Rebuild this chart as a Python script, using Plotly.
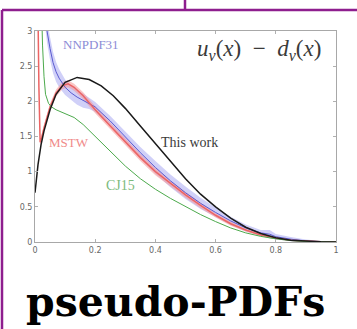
import plotly.graph_objects as go

# NNPDF31 central value and uncertainty half-width
nnpdf_x = [0.03, 0.04, 0.05, 0.06, 0.07, 0.08, 0.1, 0.12, 0.14, 0.16, 0.18, 0.2, 0.25, 0.3,
           0.35, 0.4, 0.45, 0.5, 0.55, 0.6, 0.65, 0.7, 0.75, 0.78, 0.8, 0.85, 0.9, 0.95, 1.0]
nnpdf_y = [3.4, 3.0, 2.75, 2.55, 2.42, 2.33, 2.2, 2.12, 2.06, 2.01, 1.97, 1.92, 1.72, 1.49,
           1.27, 1.06, 0.87, 0.7, 0.55, 0.42, 0.3, 0.2, 0.13, 0.11, 0.075, 0.04, 0.015, 0.004, 0.0]
nnpdf_err = [0.18, 0.17, 0.16, 0.15, 0.14, 0.13, 0.11, 0.1, 0.11, 0.1, 0.08, 0.07, 0.07, 0.08,
             0.08, 0.09, 0.09, 0.09, 0.08, 0.07, 0.06, 0.05, 0.04, 0.06, 0.04, 0.03, 0.02, 0.01, 0.005]

# MSTW central value and uncertainty half-width
mstw_x = [0.005, 0.009, 0.013, 0.017, 0.022, 0.03, 0.04, 0.05, 0.07, 0.09, 0.11, 0.13, 0.16,
          0.2, 0.25, 0.3, 0.35, 0.4, 0.45, 0.5, 0.55, 0.6, 0.65, 0.7, 0.75, 0.8, 0.85, 0.9, 0.95, 1.0]
mstw_y = [5.0, 3.3, 2.2, 1.42, 1.48, 1.62, 1.78, 1.92, 2.12, 2.22, 2.25, 2.2, 2.08,
          1.88, 1.65, 1.43, 1.2, 1.0, 0.83, 0.67, 0.52, 0.38, 0.26, 0.17, 0.1, 0.055, 0.025, 0.01, 0.003, 0.0]
mstw_err = [0.08, 0.07, 0.06, 0.05, 0.05, 0.05, 0.05, 0.05, 0.05, 0.05, 0.05, 0.05, 0.05,
            0.05, 0.05, 0.05, 0.05, 0.05, 0.04, 0.04, 0.04, 0.03, 0.03, 0.02, 0.02, 0.015, 0.01, 0.005, 0.003, 0.0]

# CJ15
cj_x = [0.015, 0.02, 0.025, 0.03, 0.035, 0.045, 0.055, 0.07, 0.1, 0.13, 0.16, 0.2, 0.25, 0.3,
        0.35, 0.4, 0.45, 0.5, 0.55, 0.6, 0.65, 0.7, 0.75, 0.8, 0.85, 0.9, 0.95, 1.0]
cj_y = [4.5, 3.4, 2.8, 2.35, 2.1, 1.97, 1.92, 1.88, 1.83, 1.77, 1.67, 1.5, 1.3, 1.08,
        0.9, 0.75, 0.62, 0.5, 0.39, 0.29, 0.2, 0.13, 0.08, 0.045, 0.02, 0.008, 0.002, 0.0]

# This work
tw_x = [0.0, 0.01, 0.02, 0.03, 0.05, 0.07, 0.1, 0.14, 0.18, 0.22, 0.26, 0.3, 0.35, 0.4,
        0.45, 0.5, 0.55, 0.6, 0.65, 0.7, 0.75, 0.8, 0.85, 0.9, 0.95, 1.0]
tw_y = [0.7, 1.1, 1.38, 1.58, 1.88, 2.1, 2.27, 2.34, 2.31, 2.22, 2.08, 1.9, 1.65, 1.4,
        1.14, 0.9, 0.68, 0.5, 0.34, 0.21, 0.12, 0.06, 0.025, 0.01, 0.003, 0.0]

x_ticks = [0, 0.2, 0.4, 0.6, 0.8, 1]
x_tick_text = ["0", "0.2", "0.4", "0.6", "0.8", "1"]
y_ticks = [0, 0.5, 1, 1.5, 2, 2.5, 3]
y_tick_text = ["0", "0.5", "1", "1.5", "2", "2.5", "3"]

W, H = 357, 329
ML, MR, MT, MB = 35, 21, 31, 87
PW, PH = W - ML - MR, H - MT - MB


def px(x):
    return (x - ML) / PW


def py(y):
    return (H - MB - y) / PH


def band(xs, ys, es, fill):
    upper = [y + e for y, e in zip(ys, es)]
    lower = [y - e for y, e in zip(ys, es)]
    return go.Scatter(x=xs + xs[::-1], y=upper + lower[::-1], fill="toself",
                      fillcolor=fill, line=dict(width=0), hoverinfo="skip",
                      showlegend=False)


fig = go.Figure()
fig.add_trace(band(nnpdf_x, nnpdf_y, nnpdf_err, "rgba(150,150,240,0.45)"))
fig.add_trace(band(mstw_x, mstw_y, mstw_err, "rgba(245,150,150,0.55)"))
fig.add_trace(go.Scatter(x=nnpdf_x, y=nnpdf_y, mode="lines",
                         line=dict(color="#5a5ad0", width=1), showlegend=False))
fig.add_trace(go.Scatter(x=mstw_x, y=mstw_y, mode="lines",
                         line=dict(color="#ec6464", width=1.5), showlegend=False))
fig.add_trace(go.Scatter(x=cj_x, y=cj_y, mode="lines",
                         line=dict(color="#4caa4c", width=1), showlegend=False))
fig.add_trace(go.Scatter(x=tw_x, y=tw_y, mode="lines",
                         line=dict(color="#1a1a1a", width=1.5), showlegend=False))

serif = "Liberation Serif"
annotations = [
    dict(x=0.187, y=2.815, text="NNPDF31", font=dict(family=serif, size=13, color="#8c8cd6")),
    dict(x=0.113, y=1.41, text="MSTW", font=dict(family=serif, size=13, color="#f08a8a")),
    dict(x=0.513, y=1.42, text="This work", font=dict(family=serif, size=14, color="#3a3a3a")),
    dict(x=0.283, y=0.81, text="CJ15", font=dict(family=serif, size=14, color="#7cba7c")),
    dict(x=0.743, y=2.73,
         text="<i>u</i><sub><i>v</i></sub>(<i>x</i>)&nbsp;&nbsp;−&nbsp;&nbsp;"
              "<i>d</i><sub><i>v</i></sub>(<i>x</i>)",
         font=dict(family=serif, size=23, color="#3a3a3a")),
    dict(x=1.04, y=0.06, text="<i>x</i>", font=dict(family=serif, size=17, color="#3a3a3a")),
]
for a in annotations:
    a.update(xref="x", yref="y", showarrow=False, xanchor="center", yanchor="middle")
annotations.append(dict(x=px(175), y=py(302), xref="paper", yref="paper", showarrow=False,
                        xanchor="center", yanchor="middle",
                        text="<b>pseudo-PDFs</b>",
                        font=dict(family="DejaVu Serif", size=41, color="#000000")))

purple = "#8e1e8e"
shapes = [
    dict(type="line", xref="paper", yref="paper", x0=px(2), x1=px(2), y0=py(10), y1=py(H + 2),
         line=dict(color=purple, width=2.5)),
    dict(type="line", xref="paper", yref="paper", x0=px(2), x1=px(W + 2), y0=py(10), y1=py(10),
         line=dict(color=purple, width=2.5)),
    dict(type="line", xref="paper", yref="paper", x0=px(185), x1=px(185), y0=py(-2), y1=py(10),
         line=dict(color=purple, width=2.5)),
]

axis_common = dict(showgrid=False, zeroline=False, showline=True, linecolor="#a8a8a8",
                   linewidth=1, mirror="ticks", ticks="inside", ticklen=3, tickcolor="#b0b0b0",
                   tickfont=dict(family="DejaVu Sans", size=8, color="#666666"))

fig.update_layout(
    width=W, height=H, margin=dict(l=ML, r=MR, t=MT, b=MB),
    paper_bgcolor="white", plot_bgcolor="white",
    xaxis=dict(range=[0, 1], tickvals=x_ticks, ticktext=x_tick_text, **axis_common),
    yaxis=dict(range=[0, 3], tickvals=y_ticks, ticktext=y_tick_text, **axis_common),
    annotations=annotations, shapes=shapes,
)

fig.write_html("out.html")
